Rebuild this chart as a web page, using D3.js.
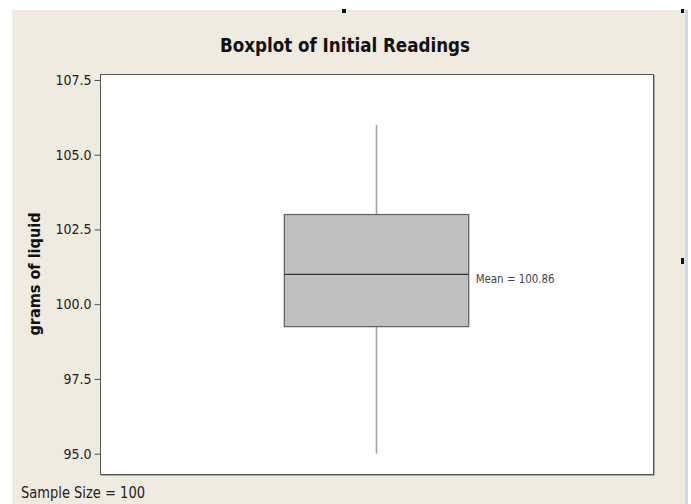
<!DOCTYPE html>
<html>
<head>
<meta charset="utf-8">
<script src="https://cdn.jsdelivr.net/npm/d3@7"></script>
<style>
  html, body { margin: 0; padding: 0; background: #fff; }
  svg { display: block; font-family: 'DejaVu Sans Condensed', 'DejaVu Sans', sans-serif; }
</style>
</head>
<body>
<svg id="chart" width="691" height="504"></svg>
<script>
// data
const categories = ['Initial Readings'];
const whiskerLow = [95.0];
const q1 = [99.25];
const median = [101.0];
const q3 = [103.0];
const whiskerHigh = [106.0];
const means = [100.86];
const yTicks = [95.0, 97.5, 100.0, 102.5, 105.0, 107.5];
const sampleSize = 100;

const svg = d3.select('#chart');
const W = 691, H = 504;
const plot = { left: 100, right: 653, top: 74, bottom: 474 };

// page background (screenshot window)
svg.append('rect').attr('x', 12).attr('y', 10).attr('width', 673).attr('height', H - 10)
  .attr('fill', '#efebe1');
svg.append('rect').attr('x', 685).attr('y', 10).attr('width', 3).attr('height', H - 10)
  .attr('fill', '#c9d9ef');
// small marks on the screenshot edge
svg.append('rect').attr('x', 342).attr('y', 9).attr('width', 4).attr('height', 4).attr('fill', '#111');
svg.append('rect').attr('x', 681).attr('y', 9).attr('width', 3).attr('height', 4).attr('fill', '#111');
svg.append('rect').attr('x', 681).attr('y', 258).attr('width', 3).attr('height', 6).attr('fill', '#111');

const x = d3.scaleBand().domain(categories).range([plot.left, plot.right]).padding(0.5);
const y = d3.scaleLinear().domain([94.32, 107.7]).range([plot.bottom, plot.top]);

// plot area
svg.append('rect')
  .attr('x', plot.left + 0.5).attr('y', plot.top + 0.5)
  .attr('width', plot.right - plot.left).attr('height', plot.bottom - plot.top)
  .attr('fill', '#fff').attr('stroke', '#555').attr('stroke-width', 1);
svg.append('path')
  .attr('d', `M${plot.right + 1.5},${plot.top + 1}V${plot.bottom + 1.5}H${plot.left + 1}`)
  .attr('fill', 'none').attr('stroke', '#aaa').attr('stroke-width', 1);

// y axis
const yAxis = svg.append('g')
  .attr('transform', `translate(${plot.left + 0.5},0)`)
  .call(d3.axisLeft(y).tickValues(yTicks).tickFormat(d3.format('.1f')).tickSize(6).tickPadding(3));
yAxis.select('.domain').remove();
yAxis.selectAll('.tick line').attr('stroke', '#555');
yAxis.selectAll('.tick text')
  .attr('fill', '#222')
  .style('font-size', '14px')
  .style('font-family', "'DejaVu Sans Condensed', sans-serif");

// boxes
const boxes = categories.map((c, i) => ({
  cat: c, lo: whiskerLow[i], q1: q1[i], med: median[i], q3: q3[i], hi: whiskerHigh[i], mean: means[i]
}));

const g = svg.append('g');
boxes.forEach((d) => {
  const cx = x(d.cat) + x.bandwidth() / 2;
  g.append('line')
    .attr('x1', cx).attr('x2', cx).attr('y1', y(d.hi)).attr('y2', y(d.q3))
    .attr('stroke', '#a3a3a3').attr('stroke-width', 1.6);
  g.append('line')
    .attr('x1', cx).attr('x2', cx).attr('y1', y(d.q1)).attr('y2', y(d.lo))
    .attr('stroke', '#a3a3a3').attr('stroke-width', 1.6);
  g.append('rect')
    .attr('x', x(d.cat)).attr('y', y(d.q3))
    .attr('width', x.bandwidth()).attr('height', y(d.q1) - y(d.q3))
    .attr('fill', '#c0c0c0').attr('stroke', '#666').attr('stroke-width', 1.3);
  g.append('line')
    .attr('x1', x(d.cat)).attr('x2', x(d.cat) + x.bandwidth())
    .attr('y1', y(d.med)).attr('y2', y(d.med))
    .attr('stroke', '#333').attr('stroke-width', 1.2);
  g.append('text')
    .attr('x', x(d.cat) + x.bandwidth() + 7)
    .attr('y', y(d.med) + 9)
    .attr('fill', '#444')
    .attr('font-size', 13)
    .attr('textLength', 79).attr('lengthAdjust', 'spacingAndGlyphs')
    .text('Mean = ' + d.mean.toFixed(2));
});

// title
svg.append('text')
  .attr('x', 345).attr('y', 52)
  .attr('text-anchor', 'middle')
  .attr('font-weight', 'bold').attr('font-size', 20).attr('fill', '#111')
  .attr('textLength', 250).attr('lengthAdjust', 'spacingAndGlyphs')
  .text('Boxplot of Initial Readings');

// y label
svg.append('text')
  .attr('transform', `translate(40,${(plot.top + plot.bottom) / 2}) rotate(-90)`)
  .attr('text-anchor', 'middle')
  .attr('font-weight', 'bold').attr('font-size', 16).attr('fill', '#111')
  .attr('textLength', 123).attr('lengthAdjust', 'spacingAndGlyphs')
  .text('grams of liquid');

// footnote
svg.append('text')
  .attr('x', 21).attr('y', 498)
  .attr('font-size', 15).attr('fill', '#222')
  .attr('textLength', 124).attr('lengthAdjust', 'spacingAndGlyphs')
  .text('Sample Size = ' + sampleSize);
</script>
</body>
</html>
